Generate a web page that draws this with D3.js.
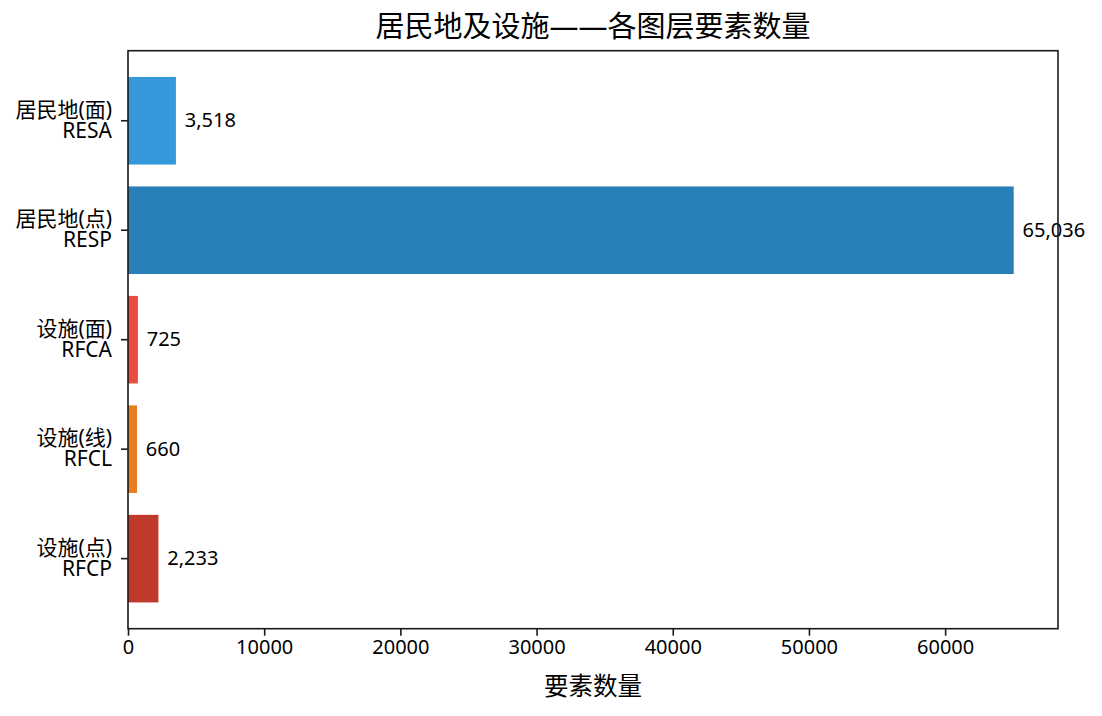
<!DOCTYPE html>
<html>
<head>
<meta charset="utf-8">
<script src="https://cdn.jsdelivr.net/npm/d3@7"></script>
<style>
  html, body { margin: 0; padding: 0; background: #fff; }
  svg text { font-family: "Noto Sans", "Noto Sans CJK SC", sans-serif; fill: #000; }
</style>
</head>
<body>
<svg id="chart" width="1102" height="716"></svg>
<script>
const codes = ["RESA", "RESP", "RFCA", "RFCL", "RFCP"];
const names = ["居民地(面)", "居民地(点)", "设施(面)", "设施(线)", "设施(点)"];
const counts = [3518, 65036, 725, 660, 2233];
const colors = ["#3498db", "#2980b9", "#e74c3c", "#e67e22", "#c0392b"];
const xTicks = [0, 10000, 20000, 30000, 40000, 50000, 60000];
const title = "居民地及设施——各图层要素数量";
const xLabel = "要素数量";

(function () {
const svg = d3.select("#chart");
const FONT = "'Noto Sans','Noto Sans CJK SC',sans-serif";
const mL = 128, mR = 1058, mT = 50.7, mB = 628.7;
const maxV = d3.max(counts);

const x = d3.scaleLinear().domain([0, maxV * 1.05]).range([mL, mR]);
const n = codes.length;
const lo = -0.4 - 0.05 * (n - 1 + 0.8), hi = n - 1 + 0.4 + 0.05 * (n - 1 + 0.8);
const y = d3.scaleLinear().domain([lo, hi]).range([mT, mB]);
const bh = y(0.8) - y(0);

const data = codes.map((c, i) => ({ code: c, name: names[i], v: counts[i], color: colors[i], i }));

svg.append("g").selectAll("rect").data(data).join("rect")
  .attr("x", x(0))
  .attr("y", d => y(d.i) - bh / 2)
  .attr("width", d => x(d.v) - x(0))
  .attr("height", bh)
  .attr("fill", d => d.color);

svg.append("g").selectAll("text").data(data).join("text")
  .attr("x", d => x(d.v + maxV * 0.01))
  .attr("y", d => y(d.i) + 6.5)
  .attr("font-size", 20)
  .text(d => d3.format(",")(d.v));

svg.append("rect")
  .attr("x", mL).attr("y", mT)
  .attr("width", mR - mL).attr("height", mB - mT)
  .attr("fill", "none").attr("stroke", "#1a1a1a").attr("stroke-width", 1.6);

const xAxis = svg.append("g").attr("transform", `translate(0,${mB})`)
  .call(d3.axisBottom(x).tickValues(xTicks).tickFormat(d3.format("d")).tickSize(7).tickPadding(4));
xAxis.select(".domain").remove();
xAxis.selectAll(".tick line").attr("stroke", "#1a1a1a").attr("stroke-width", 1.6);
xAxis.selectAll(".tick text").attr("font-size", 20).attr("fill", "#000")
  .style("font-family", FONT);

const yg = svg.append("g");
yg.selectAll("line").data(data).join("line")
  .attr("x1", mL - 7).attr("x2", mL)
  .attr("y1", d => y(d.i)).attr("y2", d => y(d.i))
  .attr("stroke", "#1a1a1a").attr("stroke-width", 1.6);
const yl = yg.selectAll("text").data(data).join("text")
  .attr("text-anchor", "end")
  .attr("font-size", 21);
yl.append("tspan").attr("x", 112).attr("y", d => y(d.i) - 4).text(d => d.name);
yl.append("tspan").attr("x", 112).attr("y", d => y(d.i) + 17).text(d => d.code);

svg.append("text")
  .attr("x", (mL + mR) / 2).attr("y", 37)
  .attr("text-anchor", "middle").attr("font-size", 29)
  .text(title);

svg.append("text")
  .attr("x", (mL + mR) / 2).attr("y", 695)
  .attr("text-anchor", "middle").attr("font-size", 24.5)
  .text(xLabel);
})();
</script>
</body>
</html>
